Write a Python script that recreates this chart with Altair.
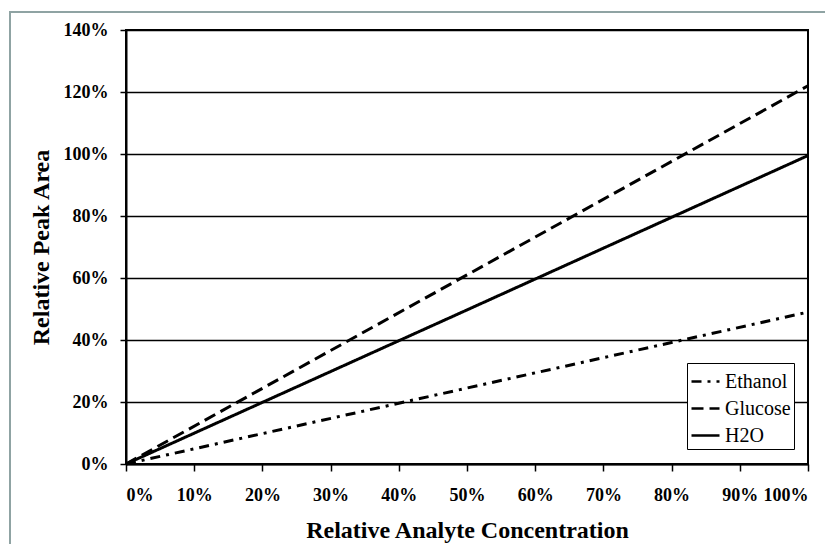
import altair as alt
import pandas as pd

series = ["Ethanol", "Glucose", "H2O"]
conc = [0.0, 0.5, 1.0]
ethanol = [0.0, 0.245, 0.49]
glucose = [0.0, 0.61, 1.22]
h2o = [0.0, 0.497, 0.995]

rows = []
for name, vals in zip(series, [ethanol, glucose, h2o]):
    for c, v in zip(conc, vals):
        rows.append({"series": name, "conc": c, "area": v})
df = pd.DataFrame(rows)

FONT = "Liberation Serif"

frame = alt.Chart(pd.DataFrame({"k": [0]})).mark_rect(
    fill="transparent", stroke="#8fa3a3", strokeWidth=2
).encode(
    x=alt.value(-116), x2=alt.value(760), y=alt.value(-18), y2=alt.value(560)
)

lines = alt.Chart(df).mark_line(strokeWidth=3, color="black").encode(
    x=alt.X("conc:Q",
            scale=alt.Scale(domain=[0, 1], nice=False),
            axis=alt.Axis(values=[i / 10 for i in range(11)], format=".0%",
                          title="Relative Analyte Concentration", grid=False,
                          titleY=73, titleBaseline="alphabetic",
                          labelPadding=15, tickSize=7)),
    y=alt.Y("area:Q",
            scale=alt.Scale(domain=[0, 1.4], nice=False),
            axis=alt.Axis(values=[i / 10 for i in range(0, 15, 2)], format=".0%",
                          title="Relative Peak Area", grid=True,
                          titleX=-85, titleY=217, titleAngle=-90,
                          titleAlign="center", titleBaseline="middle",
                          labelPadding=12, tickSize=6)),
    strokeDash=alt.StrokeDash("series:N",
        scale=alt.Scale(domain=series, range=[[10, 6, 3, 6], [12, 6], [1, 0]]),
        legend=alt.Legend(title=None, orient="none", legendX=561, legendY=333,
                          symbolType="stroke", symbolSize=784,
                          symbolStrokeColor="black", symbolStrokeWidth=2.5,
                          labelFont=FONT, labelFontSize=20, labelColor="black",
                          labelOffset=4, rowPadding=1, padding=3,
                          strokeColor="black", fillColor="white",
                          cornerRadius=0)),
    detail="series:N",
)

chart = alt.layer(frame, lines).properties(
    width=682, height=434,
    autosize=alt.AutoSizeParams(type="none"),
    padding={"left": 118, "top": 22, "right": 17, "bottom": 80},
    background="white",
).configure(
    font=FONT
).configure_view(
    stroke="black", strokeWidth=2
).configure_legend(
    labelFont=FONT, labelFontSize=20, labelColor="black"
).configure_axis(
    labelFont=FONT, labelFontSize=18, labelFontWeight="bold", labelColor="black",
    titleFont=FONT, titleFontSize=24, titleFontWeight="bold", titleColor="black",
    domainColor="black", domainWidth=2, tickColor="black", tickWidth=1.5,
    gridColor="black", gridWidth=1.3, gridOpacity=1,
)

chart.save("out.html", embed_options={"renderer": "svg", "actions": False})
